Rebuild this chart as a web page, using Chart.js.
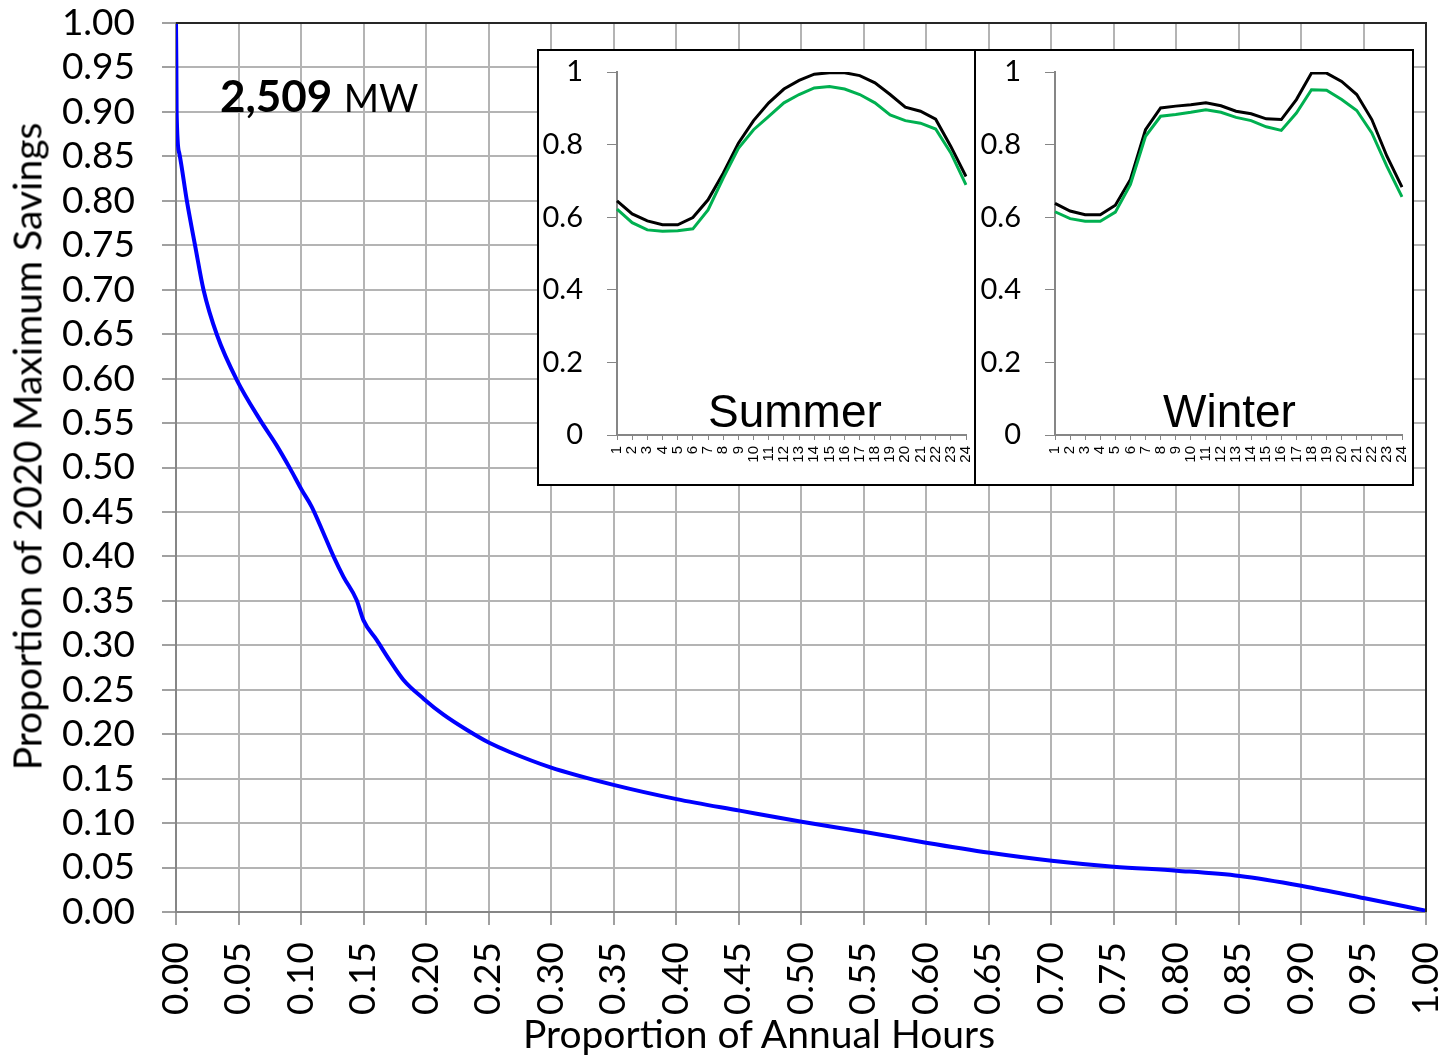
<!DOCTYPE html>
<html>
<head>
<meta charset="utf-8">
<script src="https://cdn.jsdelivr.net/npm/chart.js@4.4.1/dist/chart.umd.min.js"></script>
<style>
    html, body { margin: 0; padding: 0; background: #fff; }
    #wrap { position: relative; width: 1441px; height: 1058px; overflow: hidden; font-family: Lato, sans-serif; color: #000; }
    #main { position: absolute; left: 0; top: 0; }
    .inset { position: absolute; top: 49px; height: 437px; box-sizing: border-box; border: 2px solid #000; background: #fff; }
    .inset canvas { position: absolute; left: 0; top: 0; }
    .season { position: absolute; top: 337px; font-family: "Liberation Sans", Arial, sans-serif; font-size: 46px; line-height: 46px; white-space: nowrap; }
    .axis-title { position: absolute; font-size: 39px; line-height: 39px; height: 39px; text-align: center; white-space: nowrap; }
    #mw { position: absolute; left: 220px; top: 73px; font-size: 44px; line-height: 44px; white-space: nowrap; }
</style>
</head>
<body>
<div id="wrap">
    <canvas id="main" width="1441" height="1058"></canvas>
    <div id="mw"><b>2,509</b> <span style="font-size:38px">MW</span></div>
    <div class="axis-title" id="ytitle" style="left:-323px; top:427px; width:700px; transform:rotate(-90deg);">Proportion of 2020 Maximum Savings</div>
    <div class="axis-title" id="xtitle" style="left:359px; top:1014px; width:800px;">Proportion of Annual Hours</div>
    <div class="inset" style="left:537px; width:439px;">
        <canvas id="summer" width="435" height="433"></canvas>
        <div class="season" style="left:169px;">Summer</div>
    </div>
    <div class="inset" style="left:974px; width:440px;">
        <canvas id="winter" width="436" height="433"></canvas>
        <div class="season" style="left:187px;">Winter</div>
    </div>
</div>
<script>
// duration curve
const hourShare = [0, 0.0003, 0.0005, 0.0027, 0.0088, 0.0155, 0.022, 0.0328, 0.0488, 0.0675, 0.08, 0.0912,
    0.1005, 0.1085, 0.118, 0.126, 0.134, 0.1445, 0.150, 0.1605, 0.171, 0.182, 0.198, 0.214, 0.2325, 0.251,
    0.267, 0.299, 0.350, 0.4005, 0.451, 0.5005, 0.551, 0.600, 0.651, 0.7005, 0.750, 0.8005, 0.851, 0.902, 0.951, 1.0];
const savingsShare = [1.0, 0.95, 0.90, 0.853, 0.799, 0.748, 0.700, 0.649, 0.598, 0.553, 0.526, 0.499,
    0.475, 0.456, 0.426, 0.400, 0.377, 0.351, 0.328, 0.306, 0.283, 0.261, 0.240, 0.222, 0.205, 0.190,
    0.180, 0.163, 0.143, 0.127, 0.114, 0.1015, 0.090, 0.078, 0.0667, 0.0577, 0.051, 0.0465, 0.0405, 0.029, 0.0154, 0.0015];

// hourly profiles for the insets
const hours = ["1","2","3","4","5","6","7","8","9","10","11","12","13","14","15","16","17","18","19","20","21","22","23","24"];
const summerBlack = [0.645, 0.609, 0.590, 0.579, 0.579, 0.599, 0.648, 0.721, 0.804, 0.866, 0.915, 0.953,
    0.977, 0.994, 0.998, 0.998, 0.990, 0.970, 0.938, 0.903, 0.892, 0.870, 0.795, 0.712];
const summerGreen = [0.622, 0.585, 0.565, 0.561, 0.563, 0.568, 0.620, 0.708, 0.790, 0.841, 0.878, 0.915,
    0.938, 0.956, 0.960, 0.953, 0.938, 0.915, 0.882, 0.866, 0.859, 0.843, 0.777, 0.689];
const winterBlack = [0.638, 0.617, 0.607, 0.607, 0.633, 0.704, 0.841, 0.901, 0.906, 0.910, 0.915, 0.907,
    0.892, 0.885, 0.871, 0.869, 0.924, 0.997, 0.997, 0.974, 0.938, 0.869, 0.768, 0.683];
const winterGreen = [0.615, 0.596, 0.589, 0.589, 0.614, 0.690, 0.823, 0.878, 0.883, 0.889, 0.896, 0.889,
    0.875, 0.866, 0.849, 0.839, 0.887, 0.951, 0.950, 0.924, 0.894, 0.832, 0.740, 0.656];

const axisGray = "#868686";

// pin an axis box to a fixed size so the plot area lands where it should
function fixBox(size, dim) {
    return function (scale) {
        scale[dim] = size;
        scale.paddingLeft = 0;
        scale.paddingRight = 0;
        scale.paddingTop = 0;
        scale.paddingBottom = 0;
    };
}

const plotFrame = {
    id: "plotFrame",
    afterDatasetsDraw(chart) {
        const { ctx, chartArea: a } = chart;
        ctx.save();
        ctx.strokeStyle = "#262626";
        ctx.lineWidth = 2;
        ctx.beginPath();
        ctx.moveTo(a.left, a.top);
        ctx.lineTo(a.right, a.top);
        ctx.lineTo(a.right, a.bottom);
        ctx.stroke();
        ctx.restore();
    }
};

new Chart(document.getElementById("main"), {
    type: "line",
    data: {
        datasets: [{
            data: hourShare.map((x, i) => ({ x: x, y: savingsShare[i] })),
            borderColor: "#0000ff",
            borderWidth: 4,
            pointRadius: 0,
            cubicInterpolationMode: "monotone",
            fill: false,
        }]
    },
    options: {
        responsive: false,
        animation: false,
        layout: { padding: { top: 23, right: 15, left: 0, bottom: 0 } },
        plugins: { legend: { display: false }, tooltip: { enabled: false } },
        scales: {
            x: {
                type: "linear",
                min: 0,
                max: 1,
                afterFit: fixBox(146, "height"),
                grid: { color: "#b4b4b4", lineWidth: 2, tickLength: 13, tickColor: "#a0a0a0" },
                border: { color: axisGray, width: 2 },
                ticks: {
                    stepSize: 0.05,
                    autoSkip: false,
                    maxRotation: 90,
                    minRotation: 90,
                    padding: 17,
                    color: "#000",
                    font: { family: "Lato", size: 37 },
                    callback: (v) => v.toFixed(2),
                }
            },
            y: {
                min: 0,
                max: 1,
                afterFit: fixBox(176, "width"),
                grid: { color: "#b4b4b4", lineWidth: 2, tickLength: 14, tickColor: "#a0a0a0" },
                border: { color: axisGray, width: 2 },
                ticks: {
                    stepSize: 0.05,
                    autoSkip: false,
                    padding: 27,
                    color: "#000",
                    font: { family: "Lato", size: 37 },
                    callback: (v) => v.toFixed(2),
                }
            }
        }
    },
    plugins: [plotFrame]
});

function insetChart(id, black, green, yWidth, rightPad) {
    new Chart(document.getElementById(id), {
        type: "line",
        data: {
            labels: hours,
            datasets: [
                { data: green, borderColor: "#00b050", borderWidth: 3, pointRadius: 0, tension: 0 },
                { data: black, borderColor: "#000000", borderWidth: 3, pointRadius: 0, tension: 0 },
            ]
        },
        options: {
            responsive: false,
            animation: false,
            layout: { padding: { top: 21, right: rightPad, left: 0, bottom: 0 } },
            plugins: { legend: { display: false }, tooltip: { enabled: false } },
            scales: {
                x: {
                    offset: false,
                    afterFit: fixBox(49, "height"),
                    grid: { drawOnChartArea: false, tickLength: 5, tickColor: axisGray },
                    border: { color: axisGray, width: 2 },
                    ticks: {
                        autoSkip: false,
                        maxRotation: 90,
                        minRotation: 90,
                        padding: 6,
                        color: "#000",
                        font: { family: "Liberation Sans", size: 15 },
                    }
                },
                y: {
                    min: 0,
                    max: 1,
                    afterFit: fixBox(yWidth, "width"),
                    grid: { drawOnChartArea: false, tickLength: 10, tickColor: axisGray },
                    border: { color: axisGray, width: 2 },
                    ticks: {
                        stepSize: 0.2,
                        padding: 24,
                        color: "#000",
                        font: { family: "Lato", size: 29 },
                        callback: (v) => (v === 0 || v === 1) ? String(v) : v.toFixed(1),
                    }
                }
            }
        }
    });
}

insetChart("summer", summerBlack, summerGreen, 78, 8);
insetChart("winter", winterBlack, winterGreen, 79, 10);
</script>
</body>
</html>
